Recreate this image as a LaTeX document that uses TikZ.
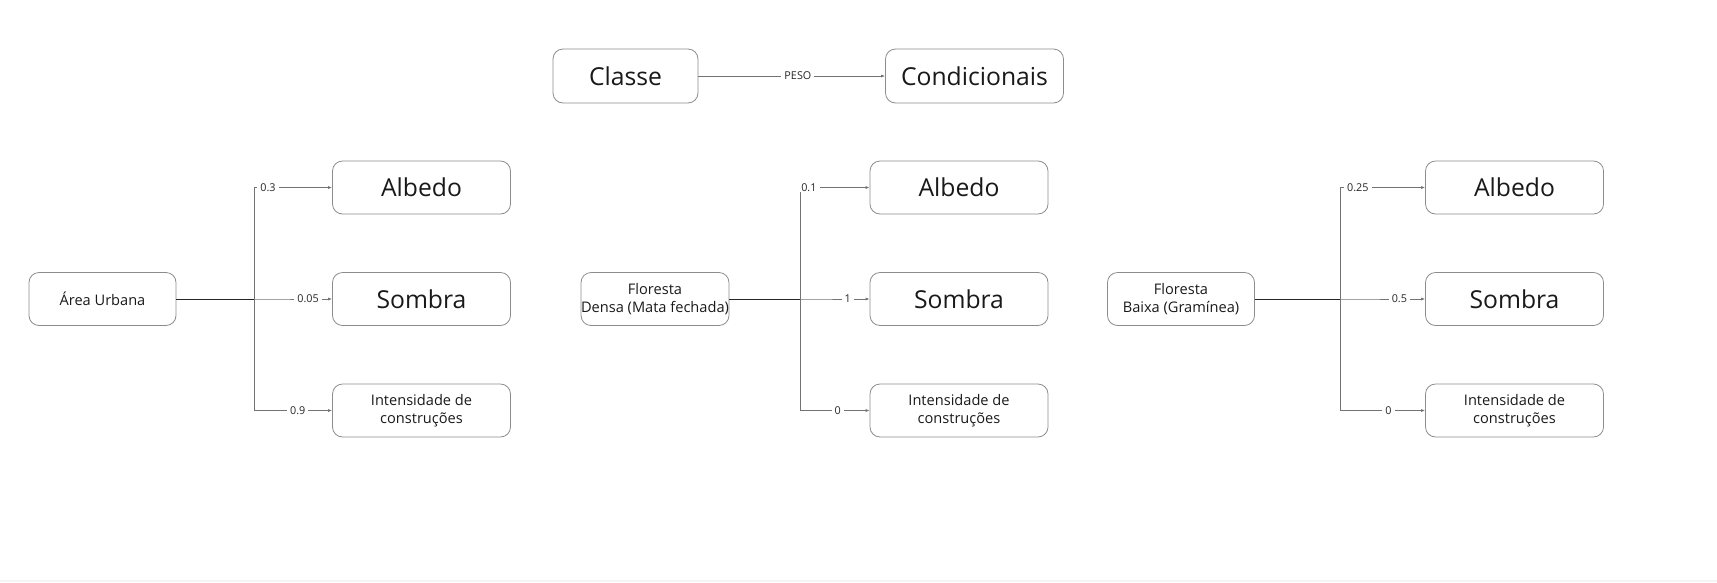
\documentclass[tikz,border=0pt]{standalone}
\usepackage{fontspec}
\setmainfont{Open Sans}
\usetikzlibrary{arrows.meta}
\tikzset{
	box/.style={draw=black!45, line width=0.8pt, rounded corners=10pt, inner sep=0pt, align=center, text=black!90, minimum height=53pt},
	srcbox/.style={box, minimum width=147pt, font=\fontsize{14.6}{18}\selectfont},
	tgtbox/.style={box, minimum width=178pt, font=\fontsize{24.7}{29}\selectfont},
	smallbox/.style={box, minimum width=178pt, font=\fontsize{14.6}{18}\selectfont},
	edge/.style={draw=black!55, line width=0.7pt, -{Latex[length=4pt,width=3pt]}},
	trunk/.style={draw=black!85, line width=0.8pt},
	lbl/.style={fill=white, inner xsep=3pt, inner ysep=1pt, text=black!85, font=\fontsize{10.8}{13}\selectfont}
}

\begin{document}
\begin{tikzpicture}[x=1pt, y=-1pt]
			%%%%% START %%%%%
			\useasboundingbox (0, 0) rectangle (1717, 582);
			\fill[black!4] (0, 579.5) rectangle (1717, 582);
			
			% legenda
			\node[box, minimum width=145pt, minimum height=54pt, font=\fontsize{24.7}{29}\selectfont] (classe) at (625.5, 76) {Classe};
			\node[box, minimum width=178pt, minimum height=54pt, font=\fontsize{24.7}{29}\selectfont] (cond) at (974.5, 76) {Condicionais};
			\draw[edge] (classe) -- node[lbl, pos=0.533] {PESO} (cond);
			
			% area urbana
			\node[srcbox] (urb) at (102.5, 299) {Área Urbana};
			\node[tgtbox] (albA) at (421.5, 187.5) {Albedo};
			\node[tgtbox] (somA) at (421.5, 299) {Sombra};
			\node[smallbox] (intA) at (421.5, 410.5) {Intensidade de\\construções};
			\coordinate (brA) at (254, 299);
			\draw[edge] (urb) -- (brA) |- node[lbl, pos=0.59] {0.3} (albA);
			\draw[edge] (urb) -- (brA) |- node[lbl, pos=0.846] {0.05} (somA);
			\draw[edge] (urb) -- (brA) |- node[lbl, pos=0.78] {0.9} (intA);
			\draw[trunk] (urb.east) -- (brA);
			
			% floresta densa
			\node[srcbox] (fld) at (655, 299) {Floresta\\Densa (Mata fechada)};
			\node[tgtbox] (albB) at (959, 187.5) {Albedo};
			\node[tgtbox] (somB) at (959, 299) {Sombra};
			\node[smallbox] (intB) at (959, 410.5) {Intensidade de\\construções};
			\coordinate (brB) at (800, 299);
			\draw[edge] (fld) -- (brB) |- node[lbl, pos=0.564] {0.1} (albB);
			\draw[edge] (fld) -- (brB) |- node[lbl, pos=0.843] {1} (somB);
			\draw[edge] (fld) -- (brB) |- node[lbl, pos=0.771] {0} (intB);
			\draw[trunk] (fld.east) -- (brB);
			
			% floresta baixa
			\node[srcbox] (flb) at (1181, 299) {Floresta\\Baixa (Gramínea)};
			\node[tgtbox] (albC) at (1514.5, 187.5) {Albedo};
			\node[tgtbox] (somC) at (1514.5, 299) {Sombra};
			\node[smallbox] (intC) at (1514.5, 410.5) {Intensidade de\\construções};
			\coordinate (brC) at (1340, 299);
			\draw[edge] (flb) -- (brC) |- node[lbl, pos=0.605] {0.25} (albC);
			\draw[edge] (flb) -- (brC) |- node[lbl, pos=0.849] {0.5} (somC);
			\draw[edge] (flb) -- (brC) |- node[lbl, pos=0.785] {0} (intC);
			\draw[trunk] (flb.east) -- (brC);
			
			%%%%% END %%%%%
\end{tikzpicture}
\end{document}
